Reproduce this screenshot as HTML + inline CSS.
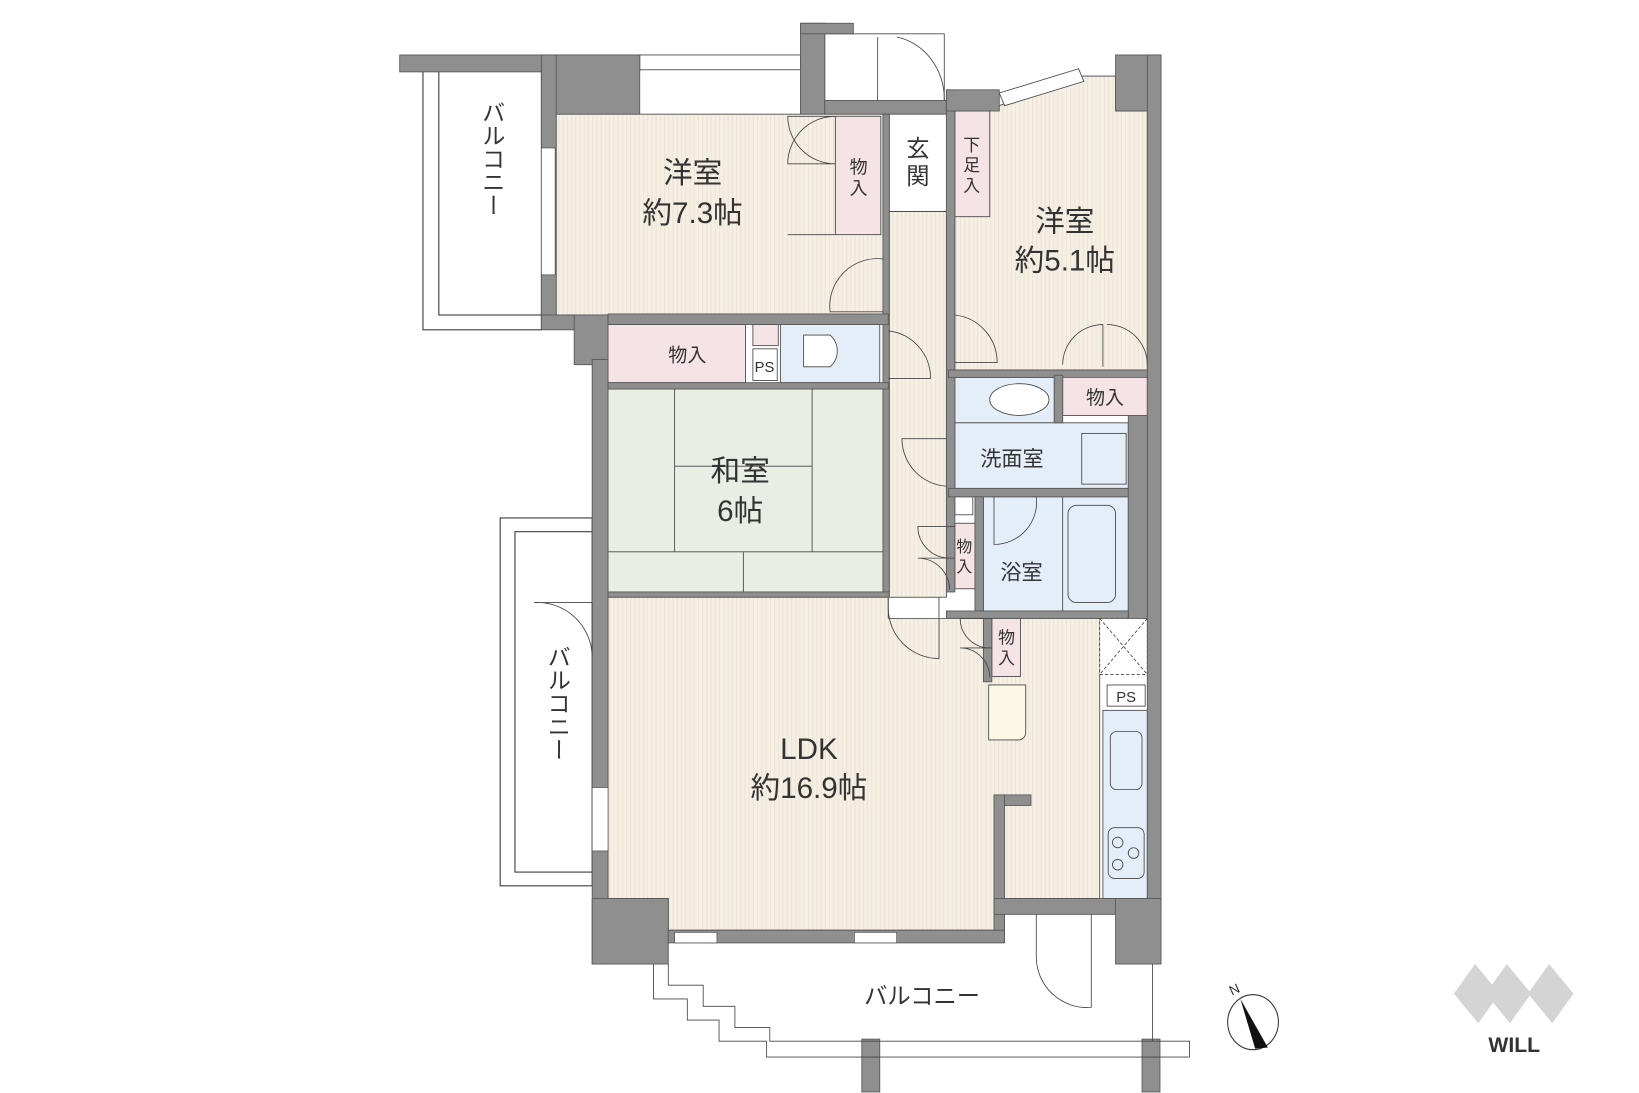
<!DOCTYPE html>
<html><head><meta charset="utf-8"><style>
html,body{margin:0;padding:0;background:#fff;}
svg{display:block;}
text{font-family:"Liberation Sans","Noto Sans CJK JP",sans-serif;fill:#333;}
</style></head><body>
<svg width="1639" height="1093" viewBox="0 0 1550 1034" preserveAspectRatio="none" xmlns="http://www.w3.org/2000/svg">
<defs>
<pattern id="st" width="4" height="10" patternUnits="userSpaceOnUse"><rect width="4" height="10" fill="#f5efe4"/><rect width="1" height="10" fill="#ece4d6"/></pattern>
</defs>
<g stroke="#333" stroke-width="1">
<rect x="400" y="66" width="112" height="246" fill="#fff"/>
<rect x="415" y="66" width="97" height="232" fill="#fff"/>
<rect x="473" y="490" width="87" height="348" fill="#fff"/>
<rect x="487" y="503" width="73" height="322" fill="#fff"/>
</g>
<!-- rooms -->
<g stroke="#444" stroke-width="0.8">
<rect x="526" y="108" width="309" height="190" fill="url(#st)"/>
<rect x="605" y="52" width="152" height="14" fill="#fff"/>
<rect x="780" y="32" width="113" height="63" fill="#fff"/>
<polygon points="903,105 945,100 1020,72 1055,72 1055,105 1085,105 1085,350 903,350" fill="url(#st)"/>
<polygon points="945,88 1020,65 1025,77 950,100" fill="#fff"/>
<rect x="841" y="200" width="54" height="365" fill="url(#st)"/>
<rect x="841" y="108" width="54" height="92" fill="#fff"/>
<rect x="903" y="105" width="33" height="100" fill="#f6e3e6"/>
<rect x="790" y="110" width="43" height="112" fill="#f6e3e6"/>
<rect x="575" y="307" width="130" height="55" fill="#f6e3e6"/>
<rect x="712" y="307" width="24" height="20" fill="#f6e3e6"/>
<rect x="712" y="330" width="23" height="30" fill="#fff"/>
<rect x="738" y="307" width="94" height="55" fill="#e4eef8"/>
<path d="M760 317 h25 a20 20 0 0 1 0 30 h-25 z" fill="#fff"/>
<rect x="575" y="368" width="260" height="192" fill="#e9eee4"/>
<rect x="903" y="357" width="94" height="43" fill="#e4eef8"/>
<ellipse cx="964" cy="378" rx="28" ry="15" fill="#fff"/>
<rect x="1005" y="355" width="80" height="38" fill="#f6e3e6"/>
<rect x="903" y="400" width="164" height="62" fill="#e4eef8"/>
<rect x="1023" y="410" width="42" height="48" fill="#e4eef8"/>
<rect x="903" y="470" width="17" height="17" fill="#fff"/>
<rect x="903" y="495" width="19" height="62" fill="#f6e3e6"/>
<rect x="930" y="470" width="137" height="108" fill="#e4eef8"/>
<rect x="1005" y="470" width="62" height="108" fill="#e4eef8"/>
<rect x="1010" y="478" width="45" height="92" rx="8" fill="#e4eef8"/>
<polygon points="575,565 840,565 840,585 1040,585 1040,850 950,850 950,880 632,880 632,850 575,850" fill="url(#st)"/>
<rect x="938" y="585" width="27" height="55" fill="#f6e3e6"/>
<path d="M935 648 h35 v45 a7 7 0 0 1 -7 7 h-28 z" fill="#fbf8e8"/>
<rect x="1040" y="585" width="45" height="53" fill="#fff" stroke-dasharray="3,2"/>
<path d="M1040 585 L1085 638 M1085 585 L1040 638" stroke-dasharray="3,2"/>
<rect x="1047" y="648" width="36" height="20" fill="#fff"/>
<rect x="1043" y="672" width="42" height="178" fill="#e4eef8"/>
<rect x="1050" y="692" width="30" height="55" rx="6" fill="#e4eef8"/>
<rect x="1048" y="783" width="34" height="48" rx="6" fill="#e4eef8"/>
<circle cx="1057" cy="797" r="5" fill="none"/><circle cx="1072" cy="807" r="5" fill="none"/><circle cx="1057" cy="818" r="5" fill="none"/>
</g>
<!-- walls gray -->
<g fill="#8f8f8f" stroke="#555" stroke-width="0.8">
<rect x="378" y="52" width="227" height="16"/>
<rect x="512" y="52" width="93" height="56"/>
<rect x="512" y="52" width="14" height="248"/>
<rect x="512" y="298" width="63" height="14"/>
<rect x="543" y="298" width="32" height="47"/>
<rect x="560" y="340" width="15" height="572"/>
<rect x="757" y="22" width="23" height="86"/>
<rect x="757" y="22" width="50" height="10"/>
<rect x="780" y="95" width="120" height="13"/>
<rect x="835" y="108" width="6" height="452"/>
<rect x="895" y="85" width="8" height="475"/>
<rect x="895" y="85" width="50" height="20"/>
<rect x="1055" y="52" width="43" height="53"/>
<rect x="1085" y="52" width="13" height="798"/>
<rect x="575" y="297" width="265" height="10"/>
<rect x="575" y="362" width="265" height="6"/>
<rect x="897" y="350" width="188" height="7"/>
<rect x="997" y="355" width="8" height="45"/>
<rect x="897" y="462" width="170" height="8"/>
<rect x="1067" y="393" width="18" height="192"/>
<rect x="922" y="470" width="8" height="115"/>
<rect x="895" y="578" width="172" height="7"/>
<rect x="575" y="560" width="265" height="5"/>
<rect x="930" y="585" width="8" height="60"/>
<rect x="940" y="752" width="35" height="10"/>
<rect x="940" y="752" width="10" height="133"/>
<rect x="940" y="850" width="158" height="15"/>
<rect x="560" y="850" width="72" height="62"/>
<rect x="1055" y="850" width="43" height="62"/>
<rect x="632" y="880" width="318" height="12"/>
<rect x="815" y="983" width="17" height="50"/>
<rect x="1080" y="983" width="17" height="50"/>
</g>
<g stroke="#444" stroke-width="0.8" fill="none">
<path d="M638 368 v154 M768 368 v154 M638 441 h130 M575 522 h260 M703 522 v38"/>
<path d="M745 110 h45 M745 110 a45 45 0 0 0 45 45 M745 155 h45 M745 155 a45 45 0 0 1 45 -45 M745 222 h45"/>
<path d="M835 245 a45 45 0 0 0 -50 50 h50"/>
<path d="M840 313 a45 45 0 0 1 40 45 h-40"/>
<path d="M903 298 a45 45 0 0 1 40 45 h-40"/>
<path d="M1005 345 a38 38 0 0 1 38 -38 M1085 345 a38 38 0 0 0 -38 -38 M1043 307 v40"/>
<path d="M895 415 h-42 a45 45 0 0 0 42 45"/>
<path d="M940 470 v45 a40 40 0 0 0 40 -45"/>
<path d="M903 498 h-35 a30 30 0 0 0 30 30 M903 528 h-35 a30 30 0 0 1 30 30"/>
<path d="M840 565 v10 a48 48 0 0 0 48 48 v-58"/>
<path d="M938 585 h-30 a28 28 0 0 0 28 28 M938 613 h-30 a28 28 0 0 1 28 28"/>
<path d="M560 620 v-50 h-55 a52 52 0 0 1 55 50"/>
<path d="M980 865 v40 a48 48 0 0 0 52 48 v-88"/>
<path d="M848 35 a55 60 0 0 1 45 60 M830 35 v60"/>
<path d="M618 912 v33 h32 v20 h30 v20 h45 v15 h400 M632 912 v20 h33 v20 h30 v20 h33 v13 h397 v15 M1090 912 v73"/>
</g>
<rect x="638" y="882" width="40" height="10" fill="#fff" stroke="#444" stroke-width="0.6"/>
<rect x="808" y="882" width="40" height="10" fill="#fff" stroke="#444" stroke-width="0.6"/>
<rect x="512" y="140" width="13" height="120" fill="#fff" stroke="#444" stroke-width="0.6"/>
<rect x="560" y="745" width="15" height="60" fill="#fff" stroke="#444" stroke-width="0.6"/>
<g transform="translate(1185,967)">
<ellipse cx="0" cy="0" rx="24" ry="26" fill="#fff" stroke="#333"/>
<polygon points="-12,-22 14,24 2,25" fill="#111"/>
<text x="-20" y="-25" font-size="13" transform="rotate(-25 -20 -25)">N</text>
</g>
<g fill="#d4d4d4">
<polygon points="1375,940 1395,912 1418,940 1398,968"/>
<polygon points="1405,940 1425,912 1448,940 1428,968"/>
<polygon points="1445,940 1465,912 1488,940 1468,968"/>
<text x="1432" y="995" font-size="20" font-weight="bold" text-anchor="middle" fill="#d4d4d4">WILL</text>
</g>
<g text-anchor="middle">
<text x="655" y="173" font-size="28">洋室</text>
<text x="655" y="211" font-size="28">約7.3帖</text>
<text x="1007" y="219" font-size="28">洋室</text>
<text x="1007" y="256" font-size="28">約5.1帖</text>
<text x="700" y="455" font-size="28">和室</text>
<text x="700" y="493" font-size="28">6帖</text>
<text x="765" y="718" font-size="28">LDK</text>
<text x="765" y="755" font-size="28">約16.9帖</text>
<text x="957" y="441" font-size="20">洗面室</text>
<text x="966" y="548" font-size="20">浴室</text>
<text x="650" y="342" font-size="18">物入</text>
<text x="1045" y="382" font-size="18">物入</text>
<text x="723" y="352" font-size="14">PS</text>
<text x="1065" y="664" font-size="14">PS</text>
<text x="868" y="148" font-size="22">玄</text>
<text x="868" y="174" font-size="22">関</text>
<text x="919" y="143" font-size="16">下</text>
<text x="919" y="162" font-size="16">足</text>
<text x="919" y="181" font-size="16">入</text>
<text x="812" y="164" font-size="17">物</text>
<text x="812" y="184" font-size="17">入</text>
<text x="912" y="522" font-size="15">物</text>
<text x="912" y="541" font-size="15">入</text>
<text x="952" y="609" font-size="16">物</text>
<text x="952" y="628" font-size="16">入</text>
<text x="872" y="950" font-size="22">バルコニー</text>
<text x="465" y="150" font-size="22" writing-mode="tb">バルコニー</text>
<text x="527" y="665" font-size="22" writing-mode="tb">バルコニー</text>
</g>
</svg>
</body></html>
